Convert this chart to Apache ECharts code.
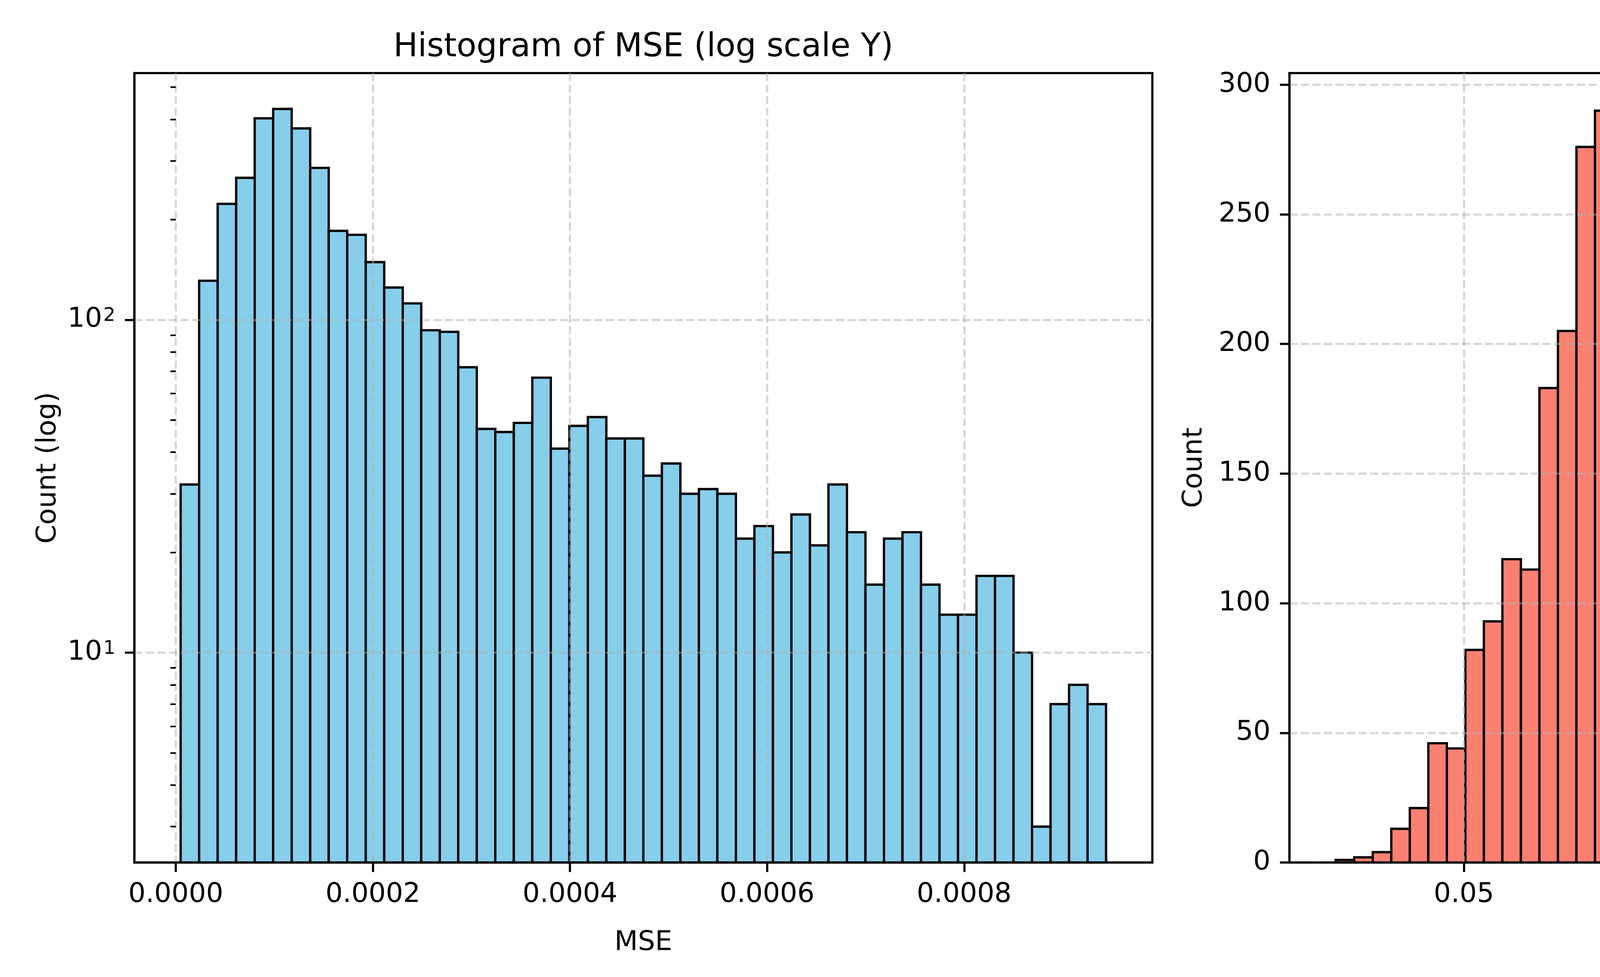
<!DOCTYPE html>
<html>
<head>
<meta charset="utf-8">
<script src="https://cdn.jsdelivr.net/npm/echarts@6/dist/echarts.min.js"></script>
<style>
html, body { margin: 0; padding: 0; background: #fff; }
#chart { width: 6000px; height: 2500px; }
</style>
</head>
<body>
<div id="chart"></div>
<script>
// bin counts (50 bins each)
const mseCounts = [32, 131, 223, 267, 403, 430, 376, 286, 185, 180,
  149, 125, 112, 93, 92, 72, 47, 46, 49, 67,
  41, 48, 51, 44, 44, 34, 37, 30, 31, 30,
  22, 24, 20, 26, 21, 32, 23, 16, 22, 23,
  16, 13, 13, 17, 17, 10, 3, 7, 8, 7];
const maxErrCounts = [1, 2, 4, 13, 21, 46, 44, 82, 93, 117,
  113, 183, 205, 276, 290, 253, 248, 174, 147, 156,
  131, 125, 104, 105, 84, 91, 65, 56, 50, 68,
  57, 55, 64, 59, 46, 49, 41, 42, 30, 37,
  32, 47, 33, 33, 30, 20, 34, 16, 10, 14];
// value range spanned by the bins
const mseRange = [0.0000049, 0.000944];
const maxErrRange = [0.01854, 0.24583];
// ticks
const mseTicks = [0, 0.0002, 0.0004, 0.0006, 0.0008];
const logMajorTicks = [10, 100];
const logMinorTicks = [3, 4, 5, 6, 7, 8, 9, 20, 30, 40, 50, 60, 70, 80, 90, 200, 300, 400, 500];
const maxErrTicks = [0.05, 0.10, 0.15, 0.20, 0.25];
const countTicks = [0, 50, 100, 150, 200, 250, 300];

const pt = 500 / 72;
const font = 'DejaVu Sans';

function toBins(range, counts) {
  const w = (range[1] - range[0]) / counts.length;
  return counts.map((c, i) => [range[0] + i * w, range[0] + (i + 1) * w, c]);
}

// matplotlib style 5% margins
function padRange(range) {
  const d = (range[1] - range[0]) * 0.05;
  return [range[0] - d, range[1] + d];
}
function padLog(counts) {
  const lo = Math.log10(Math.min(...counts)), hi = Math.log10(Math.max(...counts));
  const d = (hi - lo) * 0.05;
  return [Math.pow(10, lo - d), Math.pow(10, hi + d)];
}

const mseX = padRange(mseRange);
const maxErrX = padRange(maxErrRange);
const mseY = padLog(mseCounts);
const countMax = Math.max(...maxErrCounts) * 1.05;

function histItem(fill) {
  return function (params, api) {
    const a = api.coord([api.value(0), api.value(2)]);
    const b = api.coord([api.value(1), api.value(2)]);
    const bottom = params.coordSys.y + params.coordSys.height;
    return {
      type: 'rect',
      shape: { x: a[0], y: a[1], width: b[0] - a[0], height: bottom - a[1] },
      style: { fill: fill, stroke: '#000', lineWidth: 0.85 * pt }
    };
  };
}

const gridLine = {
  show: true,
  lineStyle: { color: '#b0b0b0', opacity: 0.5, width: 0.8 * pt, type: [2.96 * pt, 1.28 * pt] }
};
const spine = { show: true, onZero: false, lineStyle: { color: '#000', width: 0.8 * pt } };
const labelText = { fontSize: 10 * pt, color: '#000', fontFamily: font };
const majorTick = { length: 3.5 * pt, lineStyle: { color: '#000', width: 0.8 * pt } };

function xAxis(grid, min, max, ticks, digits, name) {
  return {
    gridIndex: grid, type: 'value', min: min, max: max, z: 3,
    axisLine: spine,
    axisTick: Object.assign({ show: true, customValues: ticks }, majorTick),
    axisLabel: Object.assign({ customValues: ticks, margin: 7 * pt, formatter: v => v.toFixed(digits) }, labelText),
    splitLine: gridLine,
    name: name, nameLocation: 'middle', nameGap: 171,
    nameTextStyle: labelText
  };
}

const chart = echarts.init(document.getElementById('chart'));
chart.setOption({
  animation: false,
  backgroundColor: '#fff',
  title: [
    { text: 'Histogram of MSE (log scale Y)', left: 1642, top: 76, textAlign: 'center',
      textStyle: { fontSize: 12 * pt, fontWeight: 'normal', color: '#000', fontFamily: font } },
    { text: 'Histogram of Max Error', left: 4600, top: 76, textAlign: 'center',
      textStyle: { fontSize: 12 * pt, fontWeight: 'normal', color: '#000', fontFamily: font } }
  ],
  grid: [
    { left: 344, top: 187, width: 2606, height: 2020, show: true, borderColor: '#000', borderWidth: 0.8 * pt, backgroundColor: '#fff' },
    { left: 3301, top: 187, width: 2607, height: 2020, show: true, borderColor: '#000', borderWidth: 0.8 * pt, backgroundColor: '#fff' }
  ],
  xAxis: [
    xAxis(0, mseX[0], mseX[1], mseTicks, 4, 'MSE'),
    xAxis(1, maxErrX[0], maxErrX[1], maxErrTicks, 2, 'Max Error')
  ],
  yAxis: [
    {
      gridIndex: 0, type: 'log', logBase: 10, min: mseY[0], max: mseY[1], z: 3,
      axisLine: spine,
      axisTick: Object.assign({ show: true, customValues: logMajorTicks }, majorTick),
      axisLabel: Object.assign({
        customValues: logMajorTicks, margin: 7 * pt,
        formatter: v => '{b|10}{s|' + Math.round(Math.log10(v)) + '}',
        rich: {
          b: { fontSize: 10 * pt, fontFamily: font, color: '#000' },
          s: { fontSize: 7 * pt, fontFamily: font, color: '#000', verticalAlign: 'top', padding: [0, 0, 0, 3] }
        }
      }, labelText),
      splitLine: gridLine,
      name: 'Count (log)', nameLocation: 'middle', nameGap: 186,
      nameTextStyle: labelText
    },
    {
      gridIndex: 0, type: 'log', logBase: 10, min: mseY[0], max: mseY[1], z: 3, position: 'left',
      axisLine: { show: false },
      axisTick: { show: true, customValues: logMinorTicks, length: 2 * pt, lineStyle: { color: '#000', width: 0.6 * pt } },
      axisLabel: { show: false },
      splitLine: { show: false }
    },
    {
      gridIndex: 1, type: 'value', min: 0, max: countMax, z: 3,
      axisLine: spine,
      axisTick: Object.assign({ show: true, customValues: countTicks }, majorTick),
      axisLabel: Object.assign({ customValues: countTicks, margin: 7 * pt }, labelText),
      splitLine: gridLine,
      name: 'Count', nameLocation: 'middle', nameGap: 209,
      nameTextStyle: labelText
    }
  ],
  series: [
    {
      type: 'custom', name: 'MSE', xAxisIndex: 0, yAxisIndex: 0,
      renderItem: histItem('#87CEEB'),
      encode: { x: [0, 1], y: 2 },
      data: toBins(mseRange, mseCounts)
    },
    {
      type: 'custom', name: 'Max Error', xAxisIndex: 1, yAxisIndex: 2,
      renderItem: histItem('#FA8072'),
      encode: { x: [0, 1], y: 2 },
      data: toBins(maxErrRange, maxErrCounts)
    }
  ]
});
</script>
</body>
</html>
